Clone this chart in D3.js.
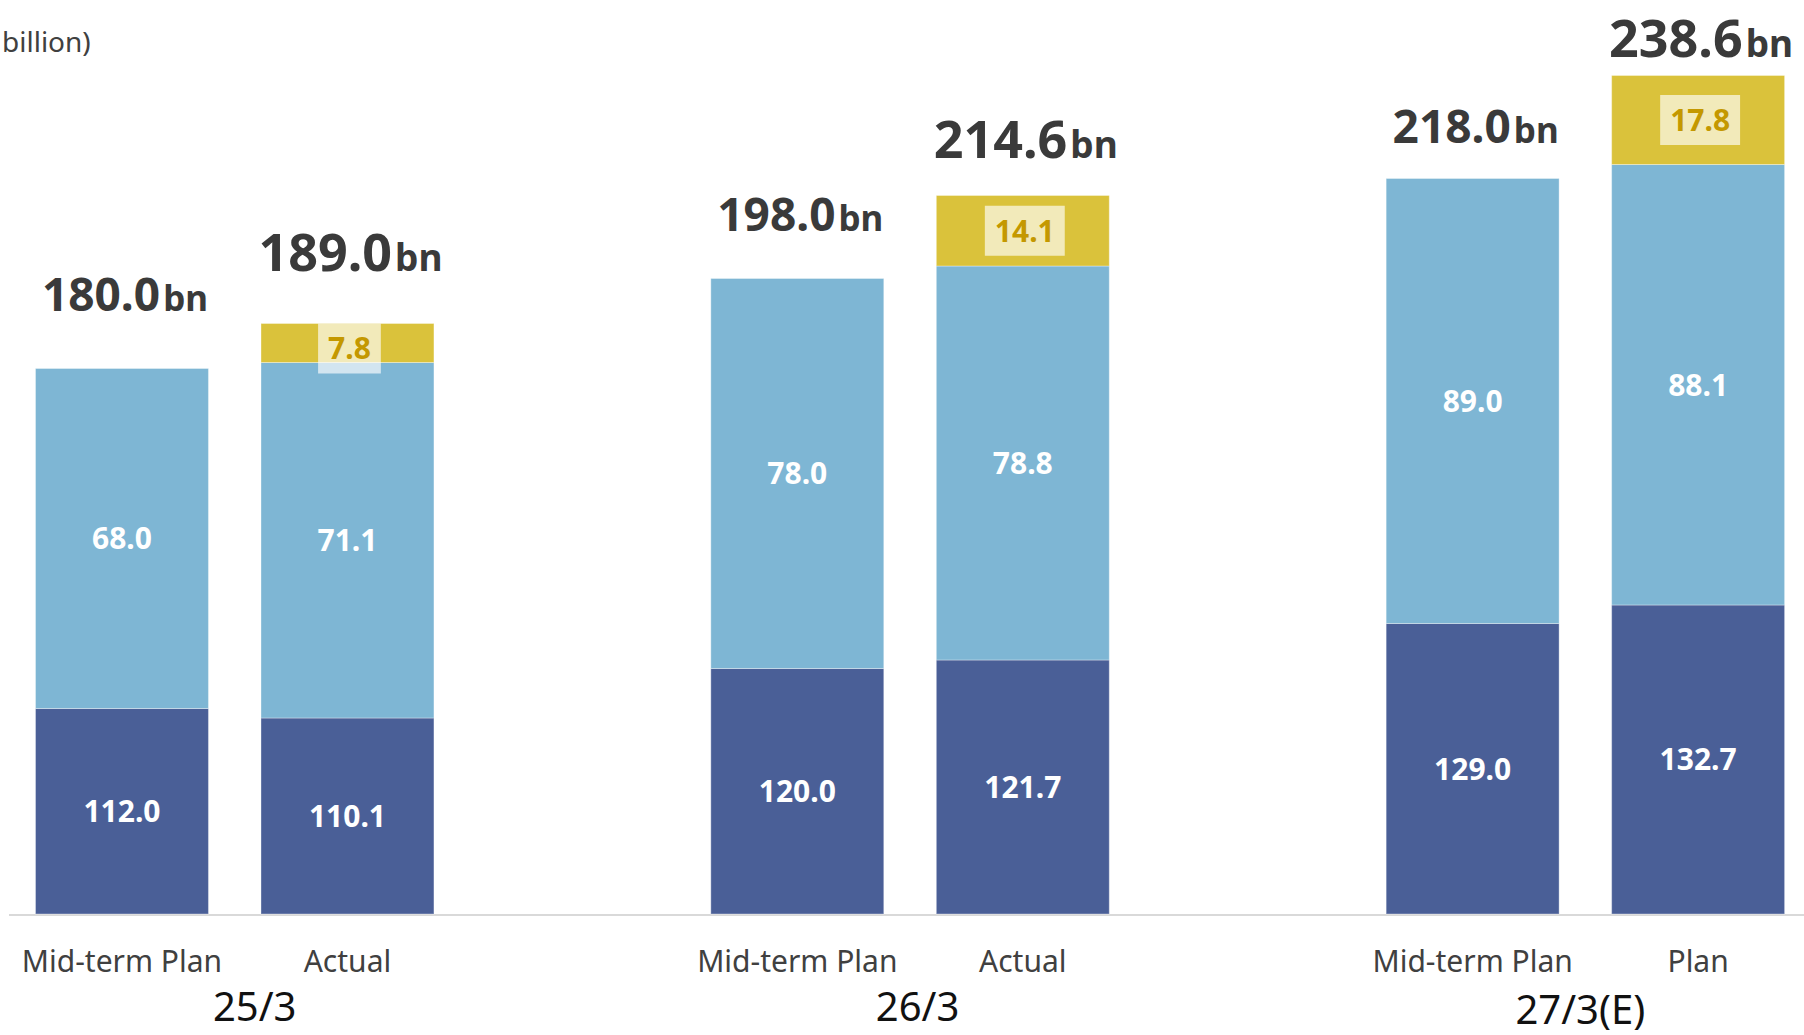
<!DOCTYPE html>
<html>
<head>
<meta charset="utf-8">
<script src="https://cdn.jsdelivr.net/npm/d3@7"></script>
<style>
  html, body { margin: 0; padding: 0; background: #ffffff; }
  svg { display: block; font-family: "Noto Sans", "Open Sans", sans-serif; }
</style>
</head>
<body>
<div id="chart"></div>
<script>
// ---------- data ----------
const groups = ["25/3", "26/3", "27/3(E)"];
const barGroups = ["25/3", "25/3", "26/3", "26/3", "27/3(E)", "27/3(E)"];
const barLabels = ["Mid-term Plan", "Actual", "Mid-term Plan", "Actual", "Mid-term Plan", "Plan"];
const barKinds = ["plan", "actual", "plan", "actual", "plan", "actual"];
const baseValues = [112.0, 110.1, 120.0, 121.7, 129.0, 132.7];
const growthValues = [68.0, 71.1, 78.0, 78.8, 89.0, 88.1];
const newValues = [0, 7.8, 0, 14.1, 0, 17.8];
const totals = [180.0, 189.0, 198.0, 214.6, 218.0, 238.6];
const unitLabel = "billion)";

// ---------- setup ----------
const W = 1804, H = 1035;
const baseY = 914;
const svg = d3.select("#chart").append("svg").attr("width", W).attr("height", H);

const rows = barLabels.map((l, i) => ({
  i, group: barGroups[i], slot: i % 2, label: l, kind: barKinds[i],
  base: baseValues[i], growth: growthValues[i], newb: newValues[i], total: totals[i]
}));
const keys = ["base", "growth", "newb"];
const colors = { base: "#4A5F97", growth: "#7EB6D4", newb: "#DAC23B" };

const x0 = d3.scaleBand().domain(groups).range([35.5, 1784.6]).paddingInner(0.41).paddingOuter(0);
const x1 = d3.scaleBand().domain([0, 1]).range([0, x0.bandwidth()]).paddingInner(0.233).paddingOuter(0);
// truncated value axis (bottom of the axis is not zero)
const yMin = 70.9;
const y = d3.scaleLinear().domain([yMin, yMin + baseY / 5]).range([baseY, 0]).clamp(true);
const labelY = d3.scaleLinear().domain([180, 238.6]).range([310.8, 52]);

const bx = d => x0(d.group) + x1(d.slot);

const stack = d3.stack().keys(keys);
const series = stack(rows);

// axis line
svg.append("line").attr("x1", 9).attr("x2", W).attr("y1", baseY + 1).attr("y2", baseY + 1)
  .attr("stroke", "#D9D9D9").attr("stroke-width", 2);

// bars
const layer = svg.selectAll("g.layer").data(series).join("g").attr("class", "layer")
  .attr("fill", s => colors[s.key]);
layer.selectAll("rect").data(s => s.filter(p => p[1] - p[0] > 0).map(p => ({ p, d: p.data })))
  .join("rect")
  .attr("x", o => bx(o.d))
  .attr("width", x1.bandwidth())
  .attr("y", o => y(o.p[1]))
  .attr("height", o => y(o.p[0]) - y(o.p[1]))
  .attr("stroke", "#ffffff").attr("stroke-opacity", 0.35).attr("stroke-width", 1);

// segment labels (white)
["base", "growth"].forEach((k, ki) => {
  const s = series[ki];
  svg.append("g").selectAll("text").data(s).join("text")
    .attr("x", p => bx(p.data) + x1.bandwidth() / 2)
    .attr("y", p => (y(p[0]) + y(p[1])) / 2)
    .attr("dy", "0.36em")
    .attr("text-anchor", "middle")
    .attr("fill", "#ffffff")
    .attr("font-size", 30).attr("font-weight", 700)
    .text(p => d3.format(".1f")(p[1] - p[0]));
});

// gold segment labels with translucent box
const gold = series[2].filter(p => p[1] - p[0] > 0);
const gG = svg.append("g").selectAll("g").data(gold).join("g");
gG.each(function (p) {
  const g = d3.select(this);
  const top = y(p[1]), bot = y(p[0]);
  const boxH = 50;
  const boxTop = Math.max(top, (top + bot) / 2 - boxH / 2);
  const cx = bx(p.data) + x1.bandwidth() / 2;
  const rect = g.append("rect").attr("fill", "#ffffff").attr("fill-opacity", 0.65);
  const t = g.append("text")
    .attr("x", cx + 2).attr("y", boxTop + boxH / 2).attr("dy", "0.36em")
    .attr("text-anchor", "middle")
    .attr("fill", "#C49800")
    .attr("font-size", 30).attr("font-weight", 700)
    .text(d3.format(".1f")(p[1] - p[0]));
  const bb = t.node().getBBox();
  rect.attr("x", cx + 2 - bb.width / 2 - 10).attr("width", bb.width + 20)
    .attr("y", boxTop).attr("height", boxH);
});

// total labels (kept inside the picture's top edge)
const tot = svg.append("g").selectAll("text").data(rows).join("text")
  .attr("x", d => bx(d) + x1.bandwidth() / 2 + 3)
  .attr("y", d => Math.max(labelY(d.total), 57))
  .attr("text-anchor", "middle")
  .attr("fill", "#3A3A3A")
  .attr("font-weight", 700);
tot.append("tspan").attr("font-size", d => d.kind === "plan" ? 46 : 52).text(d => d3.format(".1f")(d.total));
tot.append("tspan").attr("font-size", d => d.kind === "plan" ? 35 : 37).attr("dx", 3).text("bn");

// category labels
svg.append("g").selectAll("text").data(rows).join("text")
  .attr("x", d => bx(d) + x1.bandwidth() / 2)
  .attr("y", 972)
  .attr("text-anchor", "middle")
  .attr("fill", "#404040")
  .attr("font-size", 30)
  .text(d => d.label);

// group labels
svg.append("g").selectAll("text").data(groups).join("text")
  .attr("x", (g, i) => x0(g) + x0.bandwidth() / 2 + 20 - 12.5 * i)
  .attr("y", (g, i) => 1021 + (i === 2 ? 3 : 0))
  .attr("text-anchor", "middle")
  .attr("fill", "#111111")
  .attr("font-size", 40)
  .text(g => g);

// unit label (clipped in original)
svg.append("text").attr("x", 2).attr("y", 52).attr("fill", "#404040")
  .attr("font-size", 28).text(unitLabel);
</script>
</body>
</html>
